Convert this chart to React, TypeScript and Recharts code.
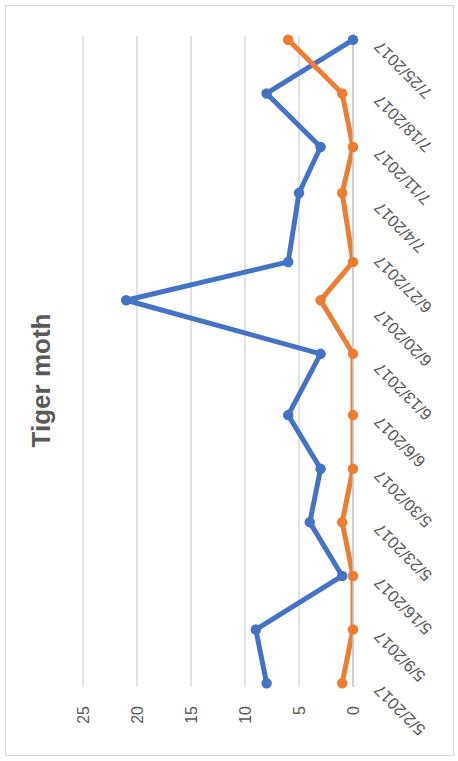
import React from 'react';
import { LineChart, Line, XAxis, YAxis, CartesianGrid } from 'recharts';

// Weekly trap visits and the tiger moth counts recorded on each visit
const sampleDates = [
  '5/2/2017', '5/9/2017', '5/16/2017', '5/23/2017', '5/30/2017', '6/6/2017', '6/14/2017',
  '6/21/2017', '6/26/2017', '7/5/2017', '7/11/2017', '7/18/2017', '7/25/2017',
];
const trapA = [8, 9, 1, 4, 3, 6, 3, 21, 6, 5, 3, 8, 0];
const trapB = [1, 0, 0, 1, 0, 0, 0, 3, 0, 1, 0, 1, 6];

// Date axis labels (one per week) and value axis ticks
const tickLabels = [
  '5/2/2017', '5/9/2017', '5/16/2017', '5/23/2017', '5/30/2017', '6/6/2017', '6/13/2017',
  '6/20/2017', '6/27/2017', '7/4/2017', '7/11/2017', '7/18/2017', '7/25/2017',
];
const valueTicks = [0, 5, 10, 15, 20, 25];

const DAY_MS = 86400000;
const parseUsDate = (s: string) => {
  const [m, d, y] = s.split('/').map(Number);
  return Date.UTC(y, m - 1, d);
};
const origin = parseUsDate(tickLabels[0]);
const dayIndex = (s: string) => Math.round((parseUsDate(s) - origin) / DAY_MS);

const data = sampleDates.map((s, i) => ({ day: dayIndex(s), trapA: trapA[i], trapB: trapB[i] }));
const tickDays = tickLabels.map(dayIndex);
const labelByDay = new Map(tickDays.map((d, i) => [d, tickLabels[i]]));

const FONT = '"Liberation Sans", Arial, sans-serif';
const TEXT_COLOR = '#595959';
const BLUE = '#4472C4';
const ORANGE = '#ED7D31';

const DateTick = (props: any) => {
  const { x, y, payload } = props;
  const label = labelByDay.get(payload.value) ?? '';
  return (
    <text
      x={x}
      y={y}
      textAnchor="end"
      transform={`rotate(-45 ${x} ${y})`}
      fill={TEXT_COLOR}
      fontSize={16.5}
      fontFamily={FONT}
    >
      {label}
    </text>
  );
};

export default function App() {
  return (
    <div
      style={{
        position: 'absolute',
        left: 0,
        top: 0,
        width: 458,
        height: 761,
        background: '#ffffff',
        overflow: 'hidden',
      }}
    >
      <div
        style={{
          position: 'absolute',
          left: 5,
          top: 5,
          width: 449,
          height: 751,
          border: '1px solid #d9d9d9',
          boxSizing: 'border-box',
        }}
      />
      <div
        style={{
          position: 'absolute',
          left: 0,
          top: 0,
          width: 761,
          height: 458,
          transformOrigin: '0 0',
          transform: 'translate(0px, 761px) rotate(-90deg)',
        }}
      >
        <div
          style={{
            position: 'absolute',
            left: 0,
            top: 28,
            width: 761,
            textAlign: 'center',
            fontFamily: FONT,
            fontWeight: 'bold',
            fontSize: 26,
            lineHeight: '26px',
            color: TEXT_COLOR,
          }}
        >
          Tiger moth
        </div>
        <LineChart
          width={761}
          height={458}
          data={data}
          margin={{ top: 83, right: 36, bottom: 15, left: 34 }}
        >
          <CartesianGrid vertical={false} stroke="#d9d9d9" strokeWidth={1.5} />
          <XAxis
            dataKey="day"
            type="number"
            domain={[tickDays[0] - 0.5, tickDays[tickDays.length - 1] + 0.5]}
            ticks={tickDays}
            interval={0}
            height={90}
            tickSize={0}
            tickLine={false}
            tickMargin={28}
            axisLine={{ stroke: '#c9c9c9', strokeWidth: 1.5 }}
            tick={<DateTick />}
          />
          <YAxis
            type="number"
            domain={[0, 25]}
            ticks={valueTicks}
            allowDataOverflow
            width={40}
            tickSize={0}
            tickLine={false}
            tickMargin={19}
            axisLine={false}
            tick={{ fill: TEXT_COLOR, fontSize: 16, fontFamily: FONT }}
          />
          <Line
            dataKey="trapA"
            type="linear"
            stroke={BLUE}
            strokeWidth={5}
            strokeLinejoin="round"
            dot={{ r: 4.5, fill: BLUE, stroke: BLUE, strokeWidth: 1.5, clipDot: false }}
            activeDot={false}
            isAnimationActive={false}
          />
          <Line
            dataKey="trapB"
            type="linear"
            stroke={ORANGE}
            strokeWidth={5}
            strokeLinejoin="round"
            dot={{ r: 4.5, fill: ORANGE, stroke: ORANGE, strokeWidth: 1.5, clipDot: false }}
            activeDot={false}
            isAnimationActive={false}
          />
        </LineChart>
      </div>
    </div>
  );
}
